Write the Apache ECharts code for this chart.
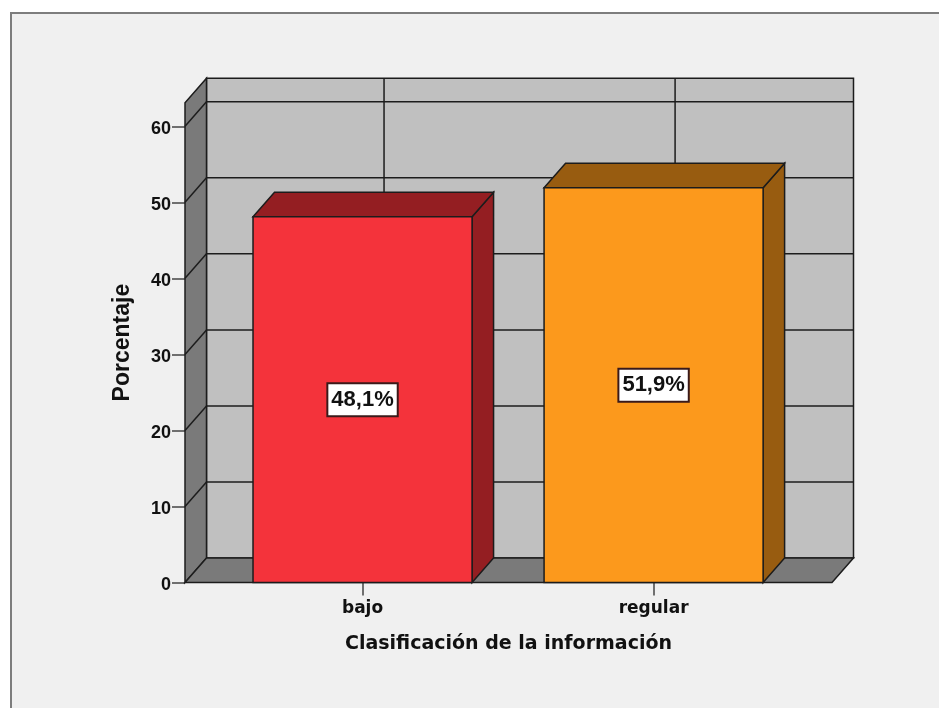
<!DOCTYPE html>
<html>
<head>
<meta charset="utf-8">
<style>html,body{margin:0;padding:0;background:#fff}#chart{width:939px;height:708px}</style>
<script src="https://cdn.jsdelivr.net/npm/echarts@6/dist/echarts.min.js"></script>
</head>
<body>
<div id="chart"></div>
<script>
// Percentage of respondents per information class
const categories = ['bajo', 'regular'];
const percentages = [48.1, 51.9];
const percentLabels = ['48,1%', '51,9%'];
const barFronts = ['#f4333b', '#fc991c'];
const barShades = ['#941e22', '#985c10'];
const yTicks = [0, 10, 20, 30, 40, 50, 60];

// Oblique projection of the chart box, in pixels
const DEPTH_X = 21.5;
const DEPTH_Y = 24.5;
const BAR_WIDTH = 0.7526;   // in category units
const X_MIN = 0.39, X_MAX = 2.613, Y_MAX = 63.1;
const EDGE = { stroke: '#1c1c1c', lineWidth: 1.5 };
const NARROW = 'Liberation Sans, Arial, sans-serif';
const WIDE = 'DejaVu Sans, Verdana, sans-serif';

const back = p => [p[0] + DEPTH_X, p[1] - DEPTH_Y];
const poly = (points, fill) => ({
  type: 'polygon',
  shape: { points },
  style: { fill, ...EDGE }
});
const line = (a, b) => ({
  type: 'line',
  shape: { x1: a[0], y1: a[1], x2: b[0], y2: b[1] },
  style: { ...EDGE, fill: null }
});

// Side wall, back wall, floor and their grid lines
function renderBox(params, api) {
  const fl = api.coord([X_MIN, 0]), fr = api.coord([X_MAX, 0]);
  const tl = api.coord([X_MIN, Y_MAX]);
  const children = [
    poly([back(fl), back(fr), back([fr[0], tl[1]]), back(tl)], '#c0c0c0'),
    poly([fl, back(fl), back(tl), tl], '#7a7a7a'),
    poly([fl, fr, back(fr), back(fl)], '#7a7a7a')
  ];
  yTicks.slice(1).forEach(v => {
    const a = api.coord([X_MIN, v]), b = api.coord([X_MAX, v]);
    children.push(line(a, back(a)), line(back(a), back(b)));
  });
  categories.forEach((c, i) => {
    const a = api.coord([i + 1, 0]), b = api.coord([i + 1, Y_MAX]);
    children.push(line(back(a), back(b)));
  });
  return { type: 'group', children };
}

// One extruded bar with its value tag in the middle of the front face
function renderBar(params, api) {
  const i = params.dataIndex;
  const pos = api.value(0), val = api.value(1);
  const bl = api.coord([pos - BAR_WIDTH / 2, 0]);
  const br = api.coord([pos + BAR_WIDTH / 2, 0]);
  const tl = api.coord([pos - BAR_WIDTH / 2, val]);
  const tr = api.coord([pos + BAR_WIDTH / 2, val]);
  const mid = api.coord([pos, val / 2]);
  return {
    type: 'group',
    children: [
      poly([br, tr, back(tr), back(br)], barShades[i]),
      poly([tl, tr, back(tr), back(tl)], barShades[i]),
      poly([bl, br, tr, tl], barFronts[i]),
      {
        type: 'text',
        x: mid[0],
        y: mid[1],
        style: {
          text: percentLabels[i],
          x: 0, y: 0,
          align: 'center',
          verticalAlign: 'middle',
          fontFamily: NARROW,
          fontWeight: 'bold',
          fontSize: 22,
          fill: '#111',
          backgroundColor: '#fff',
          borderColor: '#3a1a1a',
          borderWidth: 2,
          padding: [5, 3, 4, 3]
        }
      }
    ]
  };
}

const chart = echarts.init(document.getElementById('chart'), null, { renderer: 'canvas' });
chart.setOption({
  animation: false,
  backgroundColor: '#fff',
  graphic: [{
    type: 'rect',
    z: -10,
    shape: { x: 11, y: 13, width: 1000, height: 1000 },
    style: { fill: '#f0f0f0', stroke: '#7d7d7d', lineWidth: 2 }
  }],
  grid: { left: 185, top: 102.7, width: 647, height: 479.8 },
  xAxis: {
    type: 'value',
    min: X_MIN,
    max: X_MAX,
    splitLine: { show: false },
    axisLine: { show: false },
    axisTick: { length: 13, customValues: [1, 2], lineStyle: { color: '#444', width: 1.5 } },
    axisLabel: {
      customValues: [1, 2],
      formatter: v => categories[Math.round(v) - 1],
      margin: 18, fontSize: 17, fontFamily: WIDE, fontWeight: 'bold', color: '#111'
    },
    name: 'Clasificación de la información',
    nameLocation: 'middle',
    nameGap: 52,
    nameTextStyle: { fontSize: 19, fontFamily: WIDE, fontWeight: 'bold', color: '#111' }
  },
  yAxis: {
    type: 'value',
    min: 0,
    max: Y_MAX,
    splitLine: { show: false },
    axisLine: { show: false },
    axisTick: { length: 13, customValues: yTicks, lineStyle: { color: '#444', width: 1.5 } },
    axisLabel: {
      customValues: yTicks, margin: 14, fontSize: 18,
      verticalAlign: 'top', lineHeight: 5,
      fontFamily: NARROW, fontWeight: 'bold', color: '#111'
    },
    name: 'Porcentaje',
    nameLocation: 'middle',
    nameGap: 51,
    nameTextStyle: { fontSize: 23, fontFamily: NARROW, fontWeight: 'bold', color: '#111' }
  },
  series: [
    { type: 'custom', renderItem: renderBox, data: [[1, 0]], silent: true, z: 1 },
    {
      type: 'custom',
      renderItem: renderBar,
      encode: { x: 0, y: 1 },
      data: categories.map((c, i) => [i + 1, percentages[i]]),
      z: 2
    }
  ]
});
</script>
</body>
</html>
